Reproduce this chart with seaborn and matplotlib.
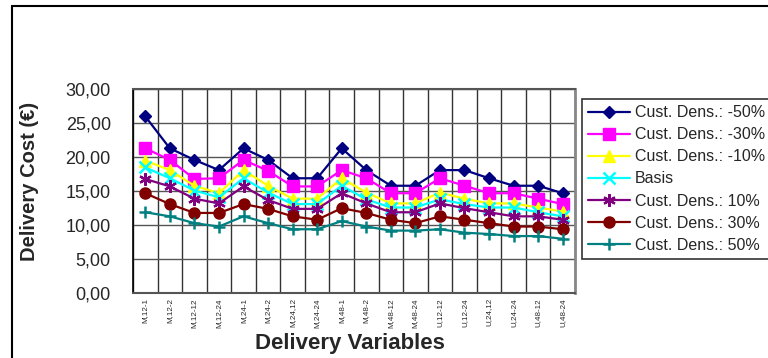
import matplotlib
matplotlib.use("Agg")
import matplotlib.pyplot as plt
from matplotlib.lines import Line2D
from matplotlib.ticker import FuncFormatter, FixedLocator
import seaborn as sns
import pandas as pd
import numpy as np

# Delivery variable combinations (x axis)
variables = ["M,12-1", "M,12-2", "M,12-12", "M,12-24", "M,24-1", "M,24-2",
             "M,24,12", "M,24-24", "M,48-1", "M,48-2", "M,48-12", "M,48-24",
             "U,12-12", "U,12-24", "U,24,12", "U,24-24", "U,48-12", "U,48-24"]

# Delivery cost (EUR) per customer density scenario
dens_m50 = [25.9, 21.2, 19.5, 18.0, 21.2, 19.5, 16.8, 16.8, 21.2, 18.0, 15.7, 15.7, 18.0, 18.0, 16.8, 15.7, 15.7, 14.6]
dens_m30 = [21.2, 19.5, 16.7, 16.8, 19.5, 17.9, 15.6, 15.6, 18.0, 16.8, 14.6, 14.6, 16.8, 15.7, 14.6, 14.6, 13.8, 13.0]
dens_m10 = [19.4, 18.0, 15.7, 14.6, 18.0, 15.7, 13.8, 13.8, 16.8, 14.7, 13.1, 13.1, 14.7, 13.8, 13.1, 13.1, 12.5, 11.9]
basis    = [18.4, 16.8, 15.0, 14.0, 16.8, 14.7, 13.0, 13.0, 15.7, 13.7, 12.5, 12.5, 13.7, 13.0, 12.5, 12.5, 11.8, 11.2]
dens_p10 = [16.7, 15.6, 13.8, 13.1, 15.6, 13.6, 12.3, 12.3, 14.6, 13.1, 11.8, 11.8, 13.1, 12.4, 11.8, 11.2, 11.2, 10.7]
dens_p30 = [14.6, 13.0, 11.7, 11.7, 13.0, 12.3, 11.2, 10.7, 12.4, 11.7, 10.7, 10.2, 11.2, 10.7, 10.2, 9.7, 9.7, 9.3]
dens_p50 = [11.8, 11.2, 10.2, 9.7, 11.2, 10.2, 9.3, 9.3, 10.5, 9.7, 9.1, 9.1, 9.3, 8.8, 8.6, 8.3, 8.3, 7.9]

series_names = ["Cust. Dens.: -50%", "Cust. Dens.: -30%", "Cust. Dens.: -10%", "Basis",
                "Cust. Dens.: 10%", "Cust. Dens.: 30%", "Cust. Dens.: 50%"]
series_values = [dens_m50, dens_m30, dens_m10, basis, dens_p10, dens_p30, dens_p50]

colors = ["#000080", "#FF00FF", "#FFFF00", "#00FFFF", "#800080", "#800000", "#008080"]
markers = ["D", "s", "^", "x", (6, 2, 0), "o", "+"]
msizes = [6.5, 8, 8, 8, 9, 8, 9]
medges = [1.0, 1.0, 1.0, 1.8, 1.6, 1.0, 1.8]

sns.set_style("white")
plt.rcParams["font.family"] = ["Liberation Sans", "DejaVu Sans"]

fig = plt.figure(figsize=(7.68, 3.58), dpi=100)
W, H = 768, 358
ax = fig.add_axes([133 / W, 1 - 292.5 / H, (575 - 133) / W, (292.5 - 88.5) / H])

pos = np.arange(len(variables))
for name, vals, c, m, ms, mew in zip(series_names, series_values, colors, markers, msizes, medges):
    df = pd.DataFrame({"pos": pos, "cost": vals})
    sns.lineplot(data=df, x="pos", y="cost", ax=ax, color=c, marker=m,
                 markersize=ms, markeredgecolor=c, markerfacecolor=c,
                 markeredgewidth=mew, linewidth=1.6, label=name, sort=False)

ax.set_xlim(-0.5, len(variables) - 0.5)
ax.set_ylim(0, 30)

# y axis: comma decimals
ax.set_yticks(np.arange(0, 31, 5))
ax.yaxis.set_major_formatter(FuncFormatter(lambda v, p: f"{v:.2f}".replace(".", ",")))
ax.tick_params(axis="y", which="major", direction="out", length=5, width=1,
               color="black", pad=11, labelsize=13)

# x axis: labels at category centres, ticks/grid at category boundaries
ax.set_xticks(pos)
ax.set_xticklabels(variables, rotation=90, fontsize=5.8)
ax.xaxis.set_minor_locator(FixedLocator(np.arange(-0.5, len(variables), 1.0)))
ax.tick_params(axis="x", which="major", length=0, pad=4)
ax.tick_params(axis="x", which="minor", direction="out", length=3, width=1, color="#333333")

ax.grid(False)
ax.yaxis.grid(True, which="major", color="#555555", linewidth=1)
ax.xaxis.grid(True, which="minor", color="#333333", linewidth=1)
ax.set_axisbelow(True)

for side in ["top", "right", "bottom"]:
    ax.spines[side].set_color("#555555")
    ax.spines[side].set_linewidth(1.5)
ax.spines["right"].set_color("#888888")
ax.spines["right"].set_linewidth(2)
ax.spines["left"].set_color("black")
ax.spines["left"].set_linewidth(1.2)

ax.set_xlabel("Delivery Variables", fontsize=16, fontweight="bold")
ax.xaxis.set_label_coords((350 - 133) / 442, -0.2)
ax.set_ylabel("Delivery Cost (€)", fontsize=14.5, fontweight="bold")
ax.yaxis.set_label_coords((39 - 133) / 442, (292.5 - 181) / 204)

leg = ax.legend(loc="upper left", bbox_to_anchor=(582 / W, 1 - 99 / H),
                bbox_transform=fig.transFigure, frameon=True, fancybox=False,
                edgecolor="black", fontsize=11.5, handlelength=2.6,
                labelspacing=0.44, borderpad=0.4, handletextpad=0.3,
                borderaxespad=0)
leg.get_frame().set_linewidth(1.2)

# outer chart frame
fig.add_artist(Line2D([12 / W, 12 / W], [0, 1 - 6 / H], transform=fig.transFigure,
                      color="black", linewidth=1.5))
fig.add_artist(Line2D([12 / W, 1], [1 - 6 / H, 1 - 6 / H], transform=fig.transFigure,
                      color="black", linewidth=1.5))

fig.savefig("out.png", dpi=100)
